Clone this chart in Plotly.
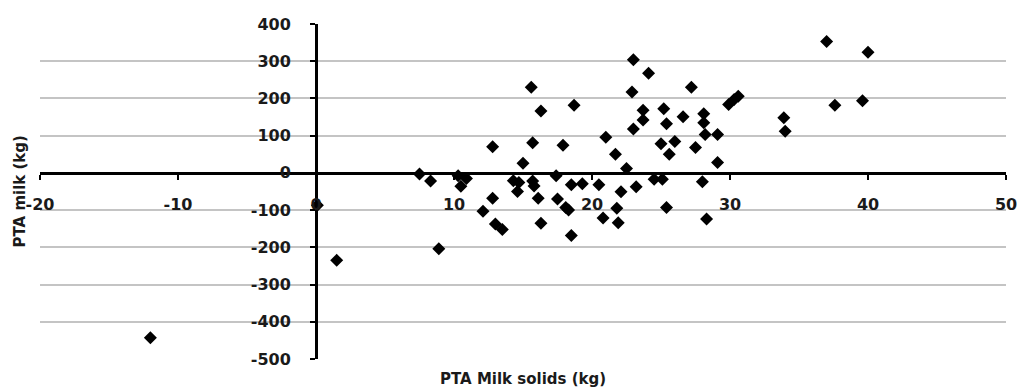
import plotly.graph_objects as go

# PTA milk solids (kg) vs PTA milk (kg)
milk_solids = [
    -12.0, 0.1, 1.5, 7.5, 8.3, 8.9, 10.3, 10.9, 10.5, 12.1,
    12.8, 12.8, 13.0, 13.5, 14.3, 14.7, 14.6, 15.0, 15.6, 15.7,
    15.7, 15.8, 16.1, 16.3, 16.3, 17.4, 17.5, 17.9, 18.1, 18.3,
    18.5, 18.5, 18.7, 19.3, 20.5, 20.8, 21.0, 21.7, 21.8, 21.9,
    22.1, 22.5, 22.9, 23.0, 23.0, 23.2, 23.7, 23.7, 24.1, 24.5,
    25.0, 25.1, 25.2, 25.4, 25.4, 25.6, 26.0, 26.6, 27.2, 27.5,
    28.0, 28.1, 28.1, 28.2, 28.3, 29.1, 29.1, 29.9, 30.3, 30.6,
    33.9, 34.0, 37.0, 37.6, 39.6, 40.0,
]
milk = [
    -443, -87, -235, -3, -22, -204, -8, -15, -36, -103,
    70, -68, -137, -152, -21, -26, -50, 26, 230, 81,
    -22, -35, -68, 166, -135, -8, -70, 74, -93, -100,
    -32, -168, 182, -29, -32, -121, 96, 50, -95, -134,
    -51, 12, 217, 304, 118, -37, 168, 142, 268, -17,
    78, -17, 172, 132, -93, 50, 84, 151, 230, 68,
    -24, 159, 135, 103, -124, 103, 28, 184, 197, 206,
    148, 112, 353, 182, 194, 324,
]

x_range = [-20, 50]
y_range = [-500, 400]
x_ticks = [-20, -10, 0, 10, 20, 30, 40, 50]
y_ticks = [-500, -400, -300, -200, -100, 0, 100, 200, 300, 400]

x_title = "PTA Milk solids (kg)"
y_title = "PTA milk (kg)"

tick_font = dict(family="DejaVu Sans", size=16, color="#1a1a1a", weight="bold")
title_font = dict(family="DejaVu Sans", size=15, color="#1a1a1a", weight="bold")

fig = go.Figure(
    go.Scatter(
        x=milk_solids,
        y=milk,
        mode="markers",
        marker=dict(symbol="diamond", size=10, color="black", line=dict(width=0)),
        cliponaxis=False,
        showlegend=False,
    )
)

# axes cross at the origin: place each axis line at the other axis' zero
x_zero_frac = (0 - x_range[0]) / (x_range[1] - x_range[0])
y_zero_frac = (0 - y_range[0]) / (y_range[1] - y_range[0])

fig.update_layout(
    width=1020,
    height=390,
    margin=dict(l=40, r=14, t=24, b=31),
    plot_bgcolor="white",
    paper_bgcolor="white",
    xaxis=dict(
        range=x_range,
        tickvals=x_ticks,
        ticktext=[str(v) for v in x_ticks],
        anchor="free",
        position=y_zero_frac,
        automargin=False,
        showline=True,
        linecolor="black",
        linewidth=3,
        ticks="outside",
        ticklen=5,
        tickwidth=2,
        tickcolor="black",
        tickfont=tick_font,
        ticklabelstandoff=11,
        showgrid=False,
        zeroline=False,
    ),
    yaxis=dict(
        range=y_range,
        tickvals=y_ticks,
        ticktext=[str(v) for v in y_ticks],
        anchor="free",
        position=x_zero_frac,
        automargin=False,
        showline=True,
        linecolor="black",
        linewidth=3,
        ticks="outside",
        ticklen=5,
        tickwidth=2,
        tickcolor="black",
        tickfont=tick_font,
        ticklabelstandoff=16,
        showgrid=True,
        gridcolor="#c4c4c4",
        gridwidth=1.5,
        zeroline=False,
    ),
    annotations=[
        dict(
            text=x_title, xref="paper", yref="paper", x=0.5, y=0,
            yshift=-20, xanchor="center", yanchor="middle",
            showarrow=False, font=title_font,
        ),
        dict(
            text=y_title, xref="paper", yref="paper", x=0, y=0.5,
            xshift=-21, xanchor="center", yanchor="middle", textangle=-90,
            showarrow=False, font=title_font,
        ),
    ],
)

fig.write_html("out.html")
